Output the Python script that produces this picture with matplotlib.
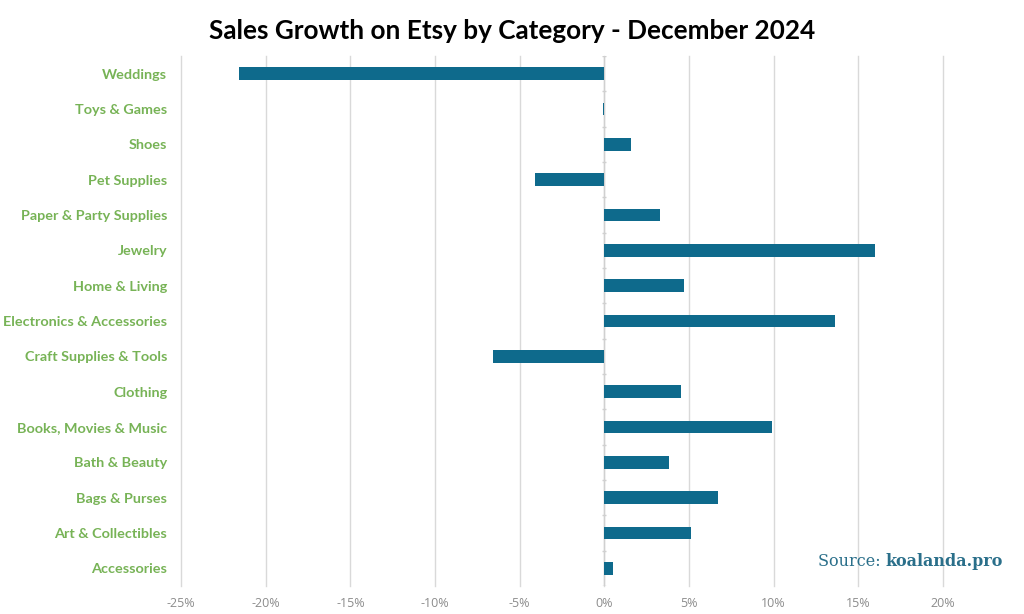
import matplotlib.pyplot as plt
import numpy as np

# Data, top to bottom
categories = ['Weddings', 'Toys & Games', 'Shoes', 'Pet Supplies', 'Paper & Party Supplies',
              'Jewelry', 'Home & Living', 'Electronics & Accessories', 'Craft Supplies & Tools',
              'Clothing', 'Books, Movies & Music', 'Bath & Beauty', 'Bags & Purses',
              'Art & Collectibles', 'Accessories']
growth = [-21.6, -0.1, 1.6, -4.1, 3.3, 16.0, 4.7, 13.6, -6.6, 4.5, 9.9, 3.8, 6.7, 5.1, 0.5]
xticks = [-25, -20, -15, -10, -5, 0, 5, 10, 15, 20]

bar_color = '#0e6a8c'
label_color = '#77b356'

fig = plt.figure(figsize=(10.24, 6.14), dpi=100)
ax = fig.add_axes([0.1768, 0.0456, 0.7441, 0.8632])

y = np.arange(len(categories))
ax.barh(y, growth, height=0.35, color=bar_color, zorder=3)

ax.set_xlim(-25, 20)
ax.set_ylim(len(categories) - 0.5, -0.5)
ax.set_xticks(xticks)
ax.set_xticklabels([f'{t}%' for t in xticks], color='#8c8c8c', fontsize=9, family='Open Sans')
ax.set_yticks(y)
ax.set_yticklabels(categories, color=label_color, fontsize=10.35, fontweight='bold', family='Lato')
ax.tick_params(axis='y', length=0, pad=10)
ax.tick_params(axis='x', length=0, pad=8)

ax.grid(axis='x', color='#d9d9d9', linewidth=1, zorder=0)
for line in ax.get_xgridlines():
    line.set_clip_on(False)
for s in ax.spines.values():
    s.set_visible(False)

# zero axis with small category ticks
ax.axvline(0, color='#d0d0d0', linewidth=1, zorder=2)
ax.hlines(np.arange(len(categories) + 1) - 0.5, -0.12, 0.12, color='#d0d0d0', linewidth=1, zorder=2)

fig.text(0.5, 0.950, 'Sales Growth on Etsy by Category - December 2024', ha='center', va='center',
         fontsize=18.8, fontweight='bold', family='Lato')

src = fig.text(0.799, 0.086, 'Source: ', ha='left', va='center', fontsize=11.5,
               family='DejaVu Serif', color='#2a6f8a')
fig.add_artist(plt.Annotation('koalanda.pro', xy=(1, 0.5), xycoords=src, ha='left', va='center',
                              fontsize=11.5, family='DejaVu Serif', fontweight='bold', color='#2a6f8a'))

plt.savefig('out.png', dpi=100)
